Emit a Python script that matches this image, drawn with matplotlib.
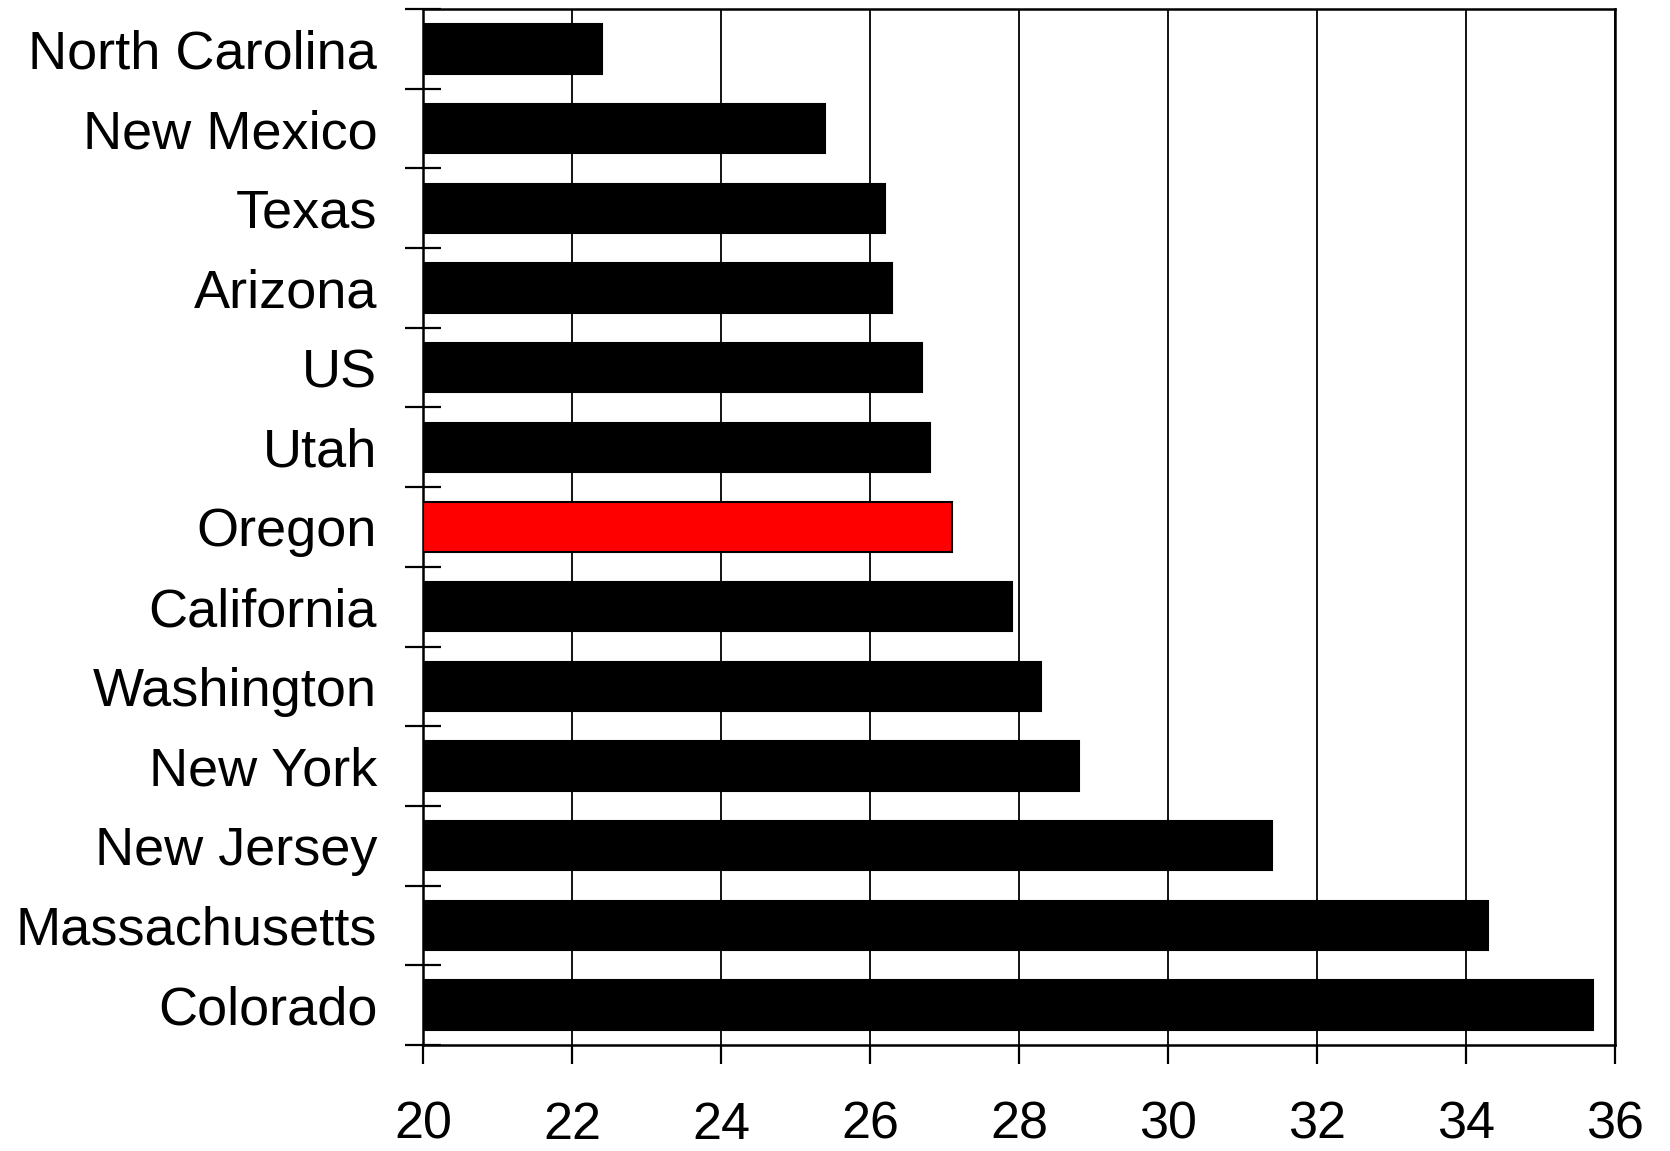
import matplotlib.pyplot as plt
import numpy as np

plt.rcParams['font.family'] = ['Liberation Sans', 'DejaVu Sans']

states = ['North Carolina', 'New Mexico', 'Texas', 'Arizona', 'US', 'Utah',
          'Oregon', 'California', 'Washington', 'New York', 'New Jersey',
          'Massachusetts', 'Colorado']
values = [22.4, 25.4, 26.2, 26.3, 26.7, 26.8, 27.1, 27.9, 28.3, 28.8, 31.4,
          34.3, 35.7]
highlight = 'Oregon'
xticks = [20, 22, 24, 26, 28, 30, 32, 34, 36]

colors = ['red' if s == highlight else 'black' for s in states]

fig = plt.figure(figsize=(16.7, 11.51), dpi=100)
ax = fig.add_axes([0.2533, 0.0921, 0.967 - 0.2533, 0.9922 - 0.0921])

pos = np.arange(len(states))
ax.barh(pos, [v - 20 for v in values], left=20, height=0.62, color=colors,
        edgecolor='black', linewidth=1.5, zorder=3)

ax.set_xlim(20, 36)
ax.set_ylim(len(states) - 0.5, -0.5)
ax.set_xticks(xticks)
ax.set_xticklabels([str(t) for t in xticks], fontsize=37.5)
ax.grid(axis='x', color='black', linewidth=1.3, zorder=0)
ax.set_axisbelow(True)

# category labels sit between the boundary ticks
ax.set_yticks(np.arange(-0.5, len(states), 1.0))
ax.set_yticklabels([])
ax.set_yticks(pos, minor=True)
ax.set_yticklabels(states, minor=True, fontsize=39)
ax.tick_params(axis='y', which='major', direction='inout', length=26, width=1.6)
ax.tick_params(axis='y', which='minor', length=0, pad=33)
ax.tick_params(axis='x', direction='out', length=14, width=1.6, pad=26)

for sp in ax.spines.values():
    sp.set_linewidth(1.8)
    sp.set_color('black')

plt.savefig('out.png', dpi=100)
